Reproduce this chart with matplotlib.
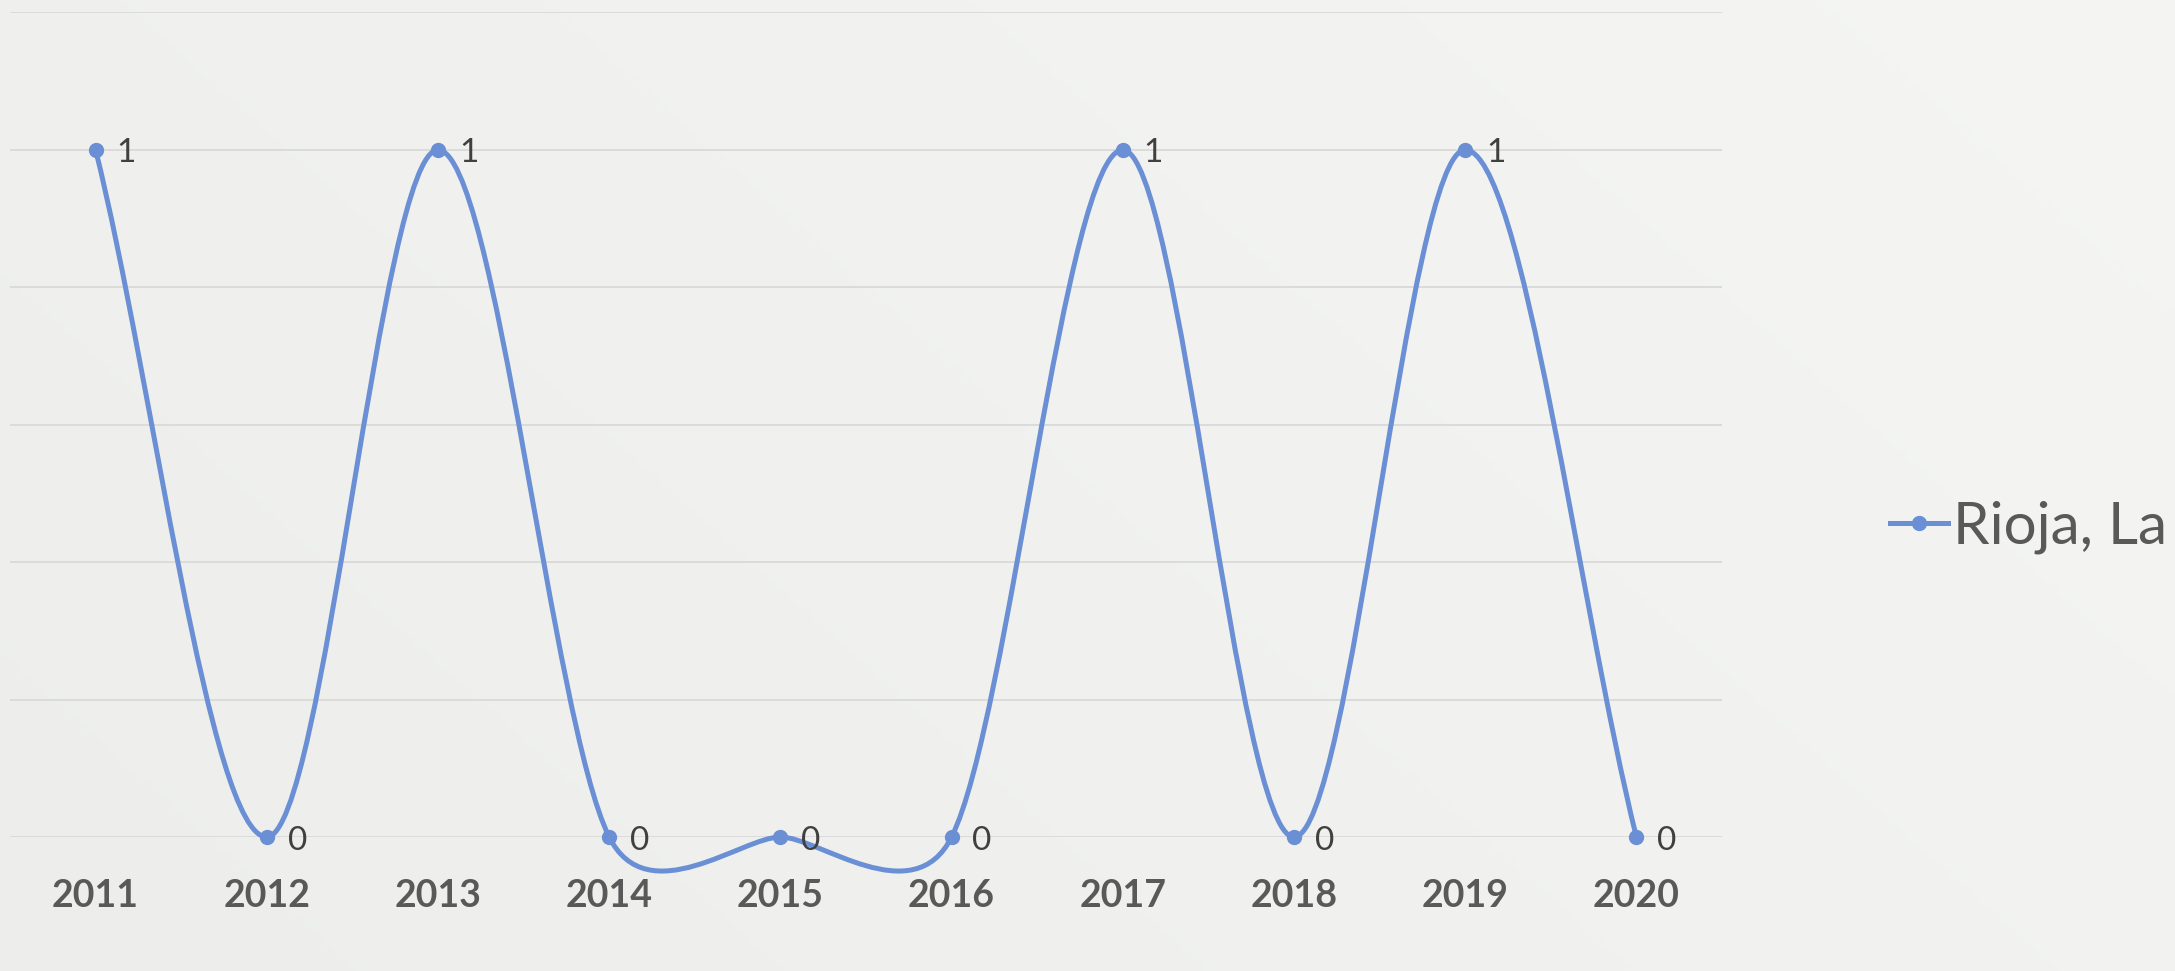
import numpy as np
import matplotlib.pyplot as plt
from matplotlib.path import Path
from matplotlib.patches import PathPatch
from matplotlib.lines import Line2D

# ---------------- data ----------------
years = ["2011", "2012", "2013", "2014", "2015", "2016", "2017", "2018", "2019", "2020"]
values = [1, 0, 1, 0, 0, 0, 1, 0, 1, 0]
series_name = "Rioja, La"

LINE = "#6A8FD5"
GRID = "#D9D9D9"
AXTXT = "#595959"
LBLTXT = "#404040"

plt.rcParams["font.family"] = ["Lato", "DejaVu Sans"]


def excel_smooth(P, D):
    """Bezier control points like Excel's smoothed line.
    P: data coords (n,2), D: display coords (n,2) used for distances."""
    n = len(P)
    verts = [P[0]]
    codes = [Path.MOVETO]
    dist = lambda a, b: float(np.hypot(*(D[a] - D[b])))
    for i in range(n - 1):
        i0, i1, i2, i3 = max(i - 1, 0), i, i + 1, min(i + 2, n - 1)
        p0, p1, p2, p3 = P[i0], P[i1], P[i2], P[i3]
        d12 = dist(i1, i2)
        d02 = dist(i0, i2)
        d13 = dist(i1, i3)
        if d02 / 6 < d12 / 2 and d13 / 6 < d12 / 2:
            f1 = 1 / 6 if i0 != i1 else 1 / 3
            f2 = 1 / 6 if i2 != i3 else 1 / 3
            b1 = p1 + (p2 - p0) * f1
            b2 = p2 - (p3 - p1) * f2
        elif d02 / 6 >= d12 / 2 and d13 / 6 >= d12 / 2:
            b1 = p1 + (p2 - p0) * d12 / 2 / d02
            b2 = p2 - (p3 - p1) * d12 / 2 / d13
        elif d02 / 6 >= d12 / 2:
            b1 = p1 + (p2 - p0) * d12 / 2 / d02
            b2 = p2 - (p3 - p1) * d12 / 2 / d13 * (d13 / d02)
        else:
            b1 = p1 + (p2 - p0) * d12 / 2 / d02 * (d02 / d13)
            b2 = p2 - (p3 - p1) * d12 / 2 / d13
        verts += [b1, b2, p2]
        codes += [Path.CURVE4] * 3
    return Path(verts, codes)


fig = plt.figure(figsize=(21.75, 9.71), dpi=100)

# soft backdrop (faded photo look)
bg = fig.add_axes([0, 0, 1, 1], zorder=-10)
gy = np.linspace(0, 1, 200)[:, None]
gx = np.linspace(0, 1, 300)[None, :]
shade = 0.93 + 0.02 * gx + 0.01 * gy
bg.imshow(np.dstack([shade, shade + 0.004, shade - 0.004]).clip(0, 1),
          extent=[0, 1, 0, 1], aspect="auto", origin="lower")
bg.axis("off")

ax = fig.add_axes([10 / 2175, 134 / 971, 1712 / 2175, 824.5 / 971])
ax.patch.set_alpha(0)
x = np.arange(len(years))
ax.set_xlim(-0.5, len(years) - 0.5)
ax.set_ylim(0, 1.2)
ax.set_yticks(np.arange(0, 1.21, 0.2))
ax.set_yticklabels([])
ax.tick_params(axis="y", length=0)
ax.grid(axis="y", color=GRID, linewidth=1.3)
ax.set_axisbelow(True)
for s in ax.spines.values():
    s.set_visible(False)
ax.set_xticks(x)
ax.set_xticklabels(years, fontsize=27, fontweight="bold", color=AXTXT)
ax.tick_params(axis="x", length=0, pad=30)

P = np.column_stack([x, values]).astype(float)
D = ax.transData.transform(P)
path = excel_smooth(P, D)
ax.add_patch(PathPatch(path, facecolor="none", edgecolor=LINE, linewidth=3.6,
                       clip_on=False, zorder=3, capstyle="round"))
ax.plot(x, values, linestyle="none", marker="o", markersize=10, color=LINE,
        clip_on=False, zorder=4)

for xi, v in zip(x, values):
    ax.annotate(str(v), (xi, v), xytext=(15, -9), textcoords="offset points",
                ha="left", va="baseline", fontsize=24, color=LBLTXT, zorder=5)

handle = Line2D([], [], color=LINE, linewidth=3.6, marker="o", markersize=10)
fig.legend([handle], [series_name], loc="center left",
           bbox_to_anchor=(1890 / 2175, 1 - 527 / 971), frameon=False,
           fontsize=42, handlelength=1.0, handletextpad=0.08, borderpad=0,
           borderaxespad=0, labelcolor=AXTXT)

fig.savefig("out.png", dpi=100)
